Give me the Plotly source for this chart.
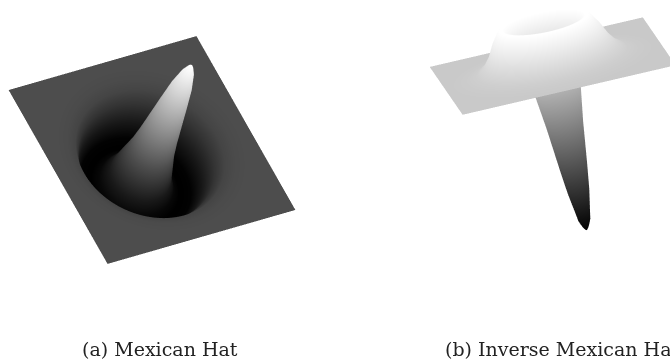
"""Mexican hat and inverse Mexican hat, drawn as flat height-shaded surfaces."""

import numpy as np
import plotly.graph_objects as go

# radial profile of each surface, plate width = 1
hat_radii = [0.0, 0.004, 0.008, 0.015, 0.03, 0.05, 0.065, 0.08, 0.092, 0.105, 0.125, 0.145, 0.175, 0.21,
             0.26, 0.29, 0.32, 0.35, 0.39, 0.44, 0.48]
hat_heights = [0.685, 0.683, 0.68, 0.665, 0.62, 0.51, 0.37, 0.22, 0.1, 0.0, -0.1, -0.2, -0.27, -0.3,
               -0.29, -0.21, -0.1, -0.035, -0.012, -0.003, 0.0]

inverse_radii = [0.0, 0.003, 0.006, 0.012, 0.02, 0.028, 0.03, 0.05, 0.064, 0.085, 0.107, 0.125, 0.15,
                 0.17, 0.19, 0.205, 0.22, 0.25, 0.28, 0.31, 0.35, 0.4, 0.46]
inverse_heights = [-0.785, -0.784, -0.78, -0.772, -0.755, -0.735, -0.72, -0.6, -0.48, -0.28, -0.115, -0.02, 0.11,
                   0.18, 0.21, 0.21, 0.195, 0.15, 0.09, 0.05, 0.02, 0.007, 0.0]

captions = ["(a) Mexican Hat", "(b) Inverse Mexican Hat"]

W, H = 670, 362
PLATE = 0.5


def polar_mesh(radii, heights):
    """Rings of the profile, closed off by a square plate edge."""
    theta = np.linspace(0, 2 * np.pi, 361)
    r = np.array(radii + [PLATE])
    rings = np.outer(r, np.ones_like(theta))
    # last ring is the square outline of the plate
    rings[-1] = PLATE / np.maximum(np.abs(np.cos(theta)), np.abs(np.sin(theta)))
    x = rings * np.cos(theta)
    y = rings * np.sin(theta)
    z = np.outer(np.array(heights + [heights[-1]]), np.ones_like(theta))
    return x, y, z


def camera_for(right, up, dx, dy, scale, distance):
    right = np.array(right)
    up = np.array(up)
    eye_dir = np.cross(right, up)
    center = -dx / scale * right + dy / scale * up
    eye = center + distance * eye_dir
    return dict(
        projection=dict(type="orthographic"),
        up=dict(zip("xyz", up)),
        center=dict(zip("xyz", center)),
        eye=dict(zip("xyz", eye)),
    )


def scene_layout(domain_x, domain_y, camera, zoom):
    hidden = dict(visible=False, showgrid=False, zeroline=False, showticklabels=False)
    return dict(
        domain=dict(x=[domain_x[0] / W, domain_x[1] / W], y=[1 - domain_y[1] / H, 1 - domain_y[0] / H]),
        xaxis=dict(range=[-PLATE, PLATE], **hidden),
        yaxis=dict(range=[-PLATE, PLATE], **hidden),
        zaxis=dict(range=[-1, 1], **hidden),
        aspectmode="manual",
        aspectratio=dict(x=zoom, y=zoom, z=2 * zoom),
        camera=camera,
        bgcolor="white",
    )


def surface(radii, heights, scene, cmin, cmax):
    x, y, z = polar_mesh(radii, heights)
    return go.Surface(
        x=x, y=y, z=z, scene=scene, surfacecolor=z, cmin=cmin, cmax=cmax,
        colorscale=[[0, "#000000"], [1, "#ffffff"]], showscale=False, hoverinfo="skip",
        lighting=dict(ambient=1, diffuse=0, specular=0, fresnel=0, roughness=1),
    )


fig = go.Figure()
fig.add_trace(surface(hat_radii, hat_heights, "scene", -0.3, 0.685))
fig.add_trace(surface(inverse_radii, inverse_heights, "scene2", -0.785, 0.21))

# orthographic zoom does not follow the eye distance, so the aspect ratio sets the size
SCENE_PX = 150.0
ZOOM = 220.0 / SCENE_PX
DIST = 3.0
cam_a = camera_for([0.45, 0.8545, 0.2605], [-0.791, 0.2455, 0.561], 0, 0, SCENE_PX, DIST)
cam_b = camera_for([0.1498, 0.9691, -0.1952], [-0.2179, 0.2251, 0.9487], 9.7, -84, SCENE_PX, DIST)

fig.update_layout(
    width=W, height=H, margin=dict(l=0, r=0, t=0, b=0),
    paper_bgcolor="white", showlegend=False,
    scene=scene_layout((0, 304), (0, 300), cam_a, ZOOM),
    scene2=scene_layout((416, 670), (0, 300), cam_b, ZOOM),
)

for label, px in zip(captions, (80, 443)):
    fig.add_annotation(
        text=label, x=px / W, y=1 - 349 / H, xref="paper", yref="paper",
        xanchor="left", yanchor="middle", showarrow=False,
        font=dict(family="DejaVu Serif", size=19, color="#222222"),
    )

fig.write_html("out.html", post_script="document.body.style.margin='0';", config=dict(displayModeBar=False))
